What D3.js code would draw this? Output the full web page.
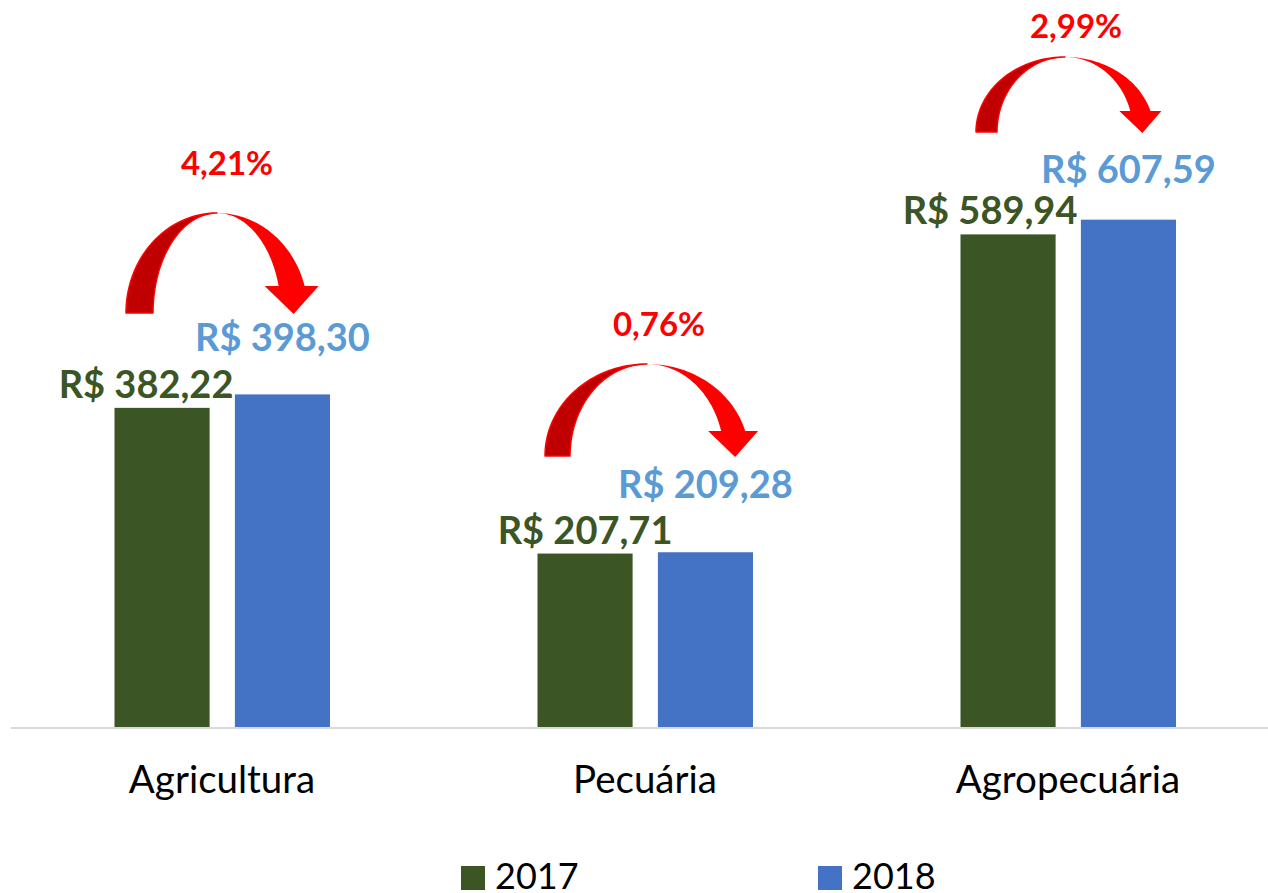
<!DOCTYPE html>
<html>
<head>
<meta charset="utf-8">
<script src="https://cdn.jsdelivr.net/npm/d3@7"></script>
<style>
  html, body { margin: 0; padding: 0; background: #fff; }
  svg { display: block; }
</style>
</head>
<body>
<svg id="chart" width="1268" height="893"></svg>
<script>
// ---- data ----
const categories = ["Agricultura", "Pecuária", "Agropecuária"];
const years = ["2017", "2018"];
const values2017 = [382.22, 207.71, 589.94];
const values2018 = [398.30, 209.28, 607.59];
const changeLabels = ["4,21%", "0,76%", "2,99%"];

// ---- layout for annotations (not data) ----
const label2017Dx = [-16, 0, -18];
const label2018Dy = [-43, -54, -37];
// arrow: peak dx from band centre, outer rx, ry, inner rx, bottom y, pct label baseline
const arrowLayout = [
  { dx: -5, rx: 91, ry: 100, irx: 64, bottom: 313, pctY: 175, pctDx: 10 },
  { dx: 2,  rx: 102, ry: 92, irx: 77, bottom: 456, pctY: 336, pctDx: 12 },
  { dx: -3, rx: 89, ry: 75,  irx: 68, bottom: 132, pctY: 38,  pctDx: 11 }
];

const colors = { "2017": "#3B5524", "2018": "#4472C4" };
const labelColors = { "2017": "#3B5524", "2018": "#5B9BD5" };
const FONT = "Lato, 'Open Sans', sans-serif";

const svg = d3.select("#chart");

const x0 = d3.scaleBand().domain(categories).range([10.5, 1279.5]).padding(0);
const x1 = d3.scaleBand().domain(years).range([104, 319.5]).paddingInner(0.21);
const y = d3.scaleLinear().domain([0, 800]).range([727, 59]);

const rows = categories.map((c, i) => ({
  cat: c, i,
  vals: [{ year: "2017", v: values2017[i] }, { year: "2018", v: values2018[i] }]
}));

// axis line
const xAxis = d3.axisBottom(x0).tickSize(0).tickPadding(0).tickFormat("");
const ax = svg.append("g").attr("transform", `translate(0,${y(0)})`).call(xAxis);
ax.select(".domain").remove();
svg.append("line")
  .attr("x1", 11).attr("x2", 1268)
  .attr("y1", y(0) + 1).attr("y2", y(0) + 1)
  .attr("stroke", "#D9D9D9").attr("stroke-width", 2);

// bars
const groups = svg.selectAll("g.cat").data(rows).join("g")
  .attr("class", "cat")
  .attr("transform", d => `translate(${x0(d.cat)},0)`);

groups.selectAll("rect").data(d => d.vals).join("rect")
  .attr("x", d => x1(d.year))
  .attr("width", x1.bandwidth())
  .attr("y", d => y(d.v))
  .attr("height", d => y(0) - y(d.v))
  .attr("fill", d => colors[d.year]);

// value labels
const fmt = v => "R$ " + d3.format(".2f")(v).replace(".", ",");
groups.each(function (d) {
  const g = d3.select(this);
  d.vals.forEach(o => {
    const cx = x1(o.year) + x1.bandwidth() / 2 + (o.year === "2017" ? label2017Dx[d.i] : 0);
    const yy = y(o.v) + (o.year === "2017" ? -10 : label2018Dy[d.i]);
    g.append("text")
      .attr("x", cx).attr("y", yy)
      .attr("text-anchor", "middle")
      .attr("font-family", FONT).attr("font-weight", 700)
      .attr("font-size", 38)
      .attr("fill", labelColors[o.year])
      .text(fmt(o.v));
  });
});

// category labels
svg.selectAll("text.cat").data(categories).join("text")
  .attr("class", "cat")
  .attr("x", d => x0(d) + x0.bandwidth() / 2)
  .attr("y", 793)
  .attr("text-anchor", "middle")
  .attr("font-family", FONT).attr("font-size", 38.5)
  .attr("fill", "#000")
  .text(d => d);

// arrows
function ellPt(cx, cy, rx, ry, deg) {
  const t = deg * Math.PI / 180;
  return [cx + rx * Math.cos(t), cy - ry * Math.sin(t)];
}
function arcPts(cx, cy, rx, ry, a0, a1, n) {
  const pts = [];
  for (let k = 0; k <= n; k++) pts.push(ellPt(cx, cy, rx, ry, a0 + (a1 - a0) * k / n));
  return pts;
}
const line = d3.line().curve(d3.curveLinear);

rows.forEach(d => {
  const L = arrowLayout[d.i];
  const cx = x0(d.cat) + x0.bandwidth() / 2 + L.dx;
  const cy = L.bottom;
  const th = L.rx - L.irx;
  const baseY = cy - th;
  const aEnd = Math.asin(th / L.ry) * 180 / Math.PI;
  const g = svg.append("g");

  // back (dark) face: left half
  const dark = arcPts(cx, cy, L.rx, L.ry, 180, 90, 40)
    .concat(arcPts(cx, cy, L.irx, L.ry, 90, 180, 40));
  g.append("path").attr("d", line(dark) + "Z")
    .attr("fill", "#C00000").attr("stroke", "#FF0000").attr("stroke-width", 1.5)
    .attr("stroke-linejoin", "round");

  // front (light) face: right half to head base
  const front = arcPts(cx, cy, L.rx, L.ry, 107, aEnd, 60)
    .concat(arcPts(cx, cy, L.irx, L.ry, aEnd, 90, 50));
  g.append("path").attr("d", line(front) + "Z").attr("fill", "#FF0000");

  // arrow head
  const po = ellPt(cx, cy, L.rx, L.ry, aEnd);
  const pi = ellPt(cx, cy, L.irx, L.ry, aEnd);
  const hc = (po[0] + pi[0]) / 2;
  const hw = th * 1.0;
  g.append("path")
    .attr("d", line([[hc - hw, baseY], [hc + hw, baseY], [hc + 2, cy + 1]]) + "Z")
    .attr("fill", "#FF0000");

  // percentage label
  g.append("text")
    .attr("x", cx + L.pctDx).attr("y", L.pctY)
    .attr("text-anchor", "middle")
    .attr("font-family", FONT).attr("font-weight", 700).attr("font-size", 33)
    .attr("fill", "#FF0000")
    .text(changeLabels[d.i]);
});

// legend
const legend = svg.append("g");
const legItems = [{ year: "2017", x: 461 }, { year: "2018", x: 818 }];
legItems.forEach(it => {
  legend.append("rect").attr("x", it.x).attr("y", 866).attr("width", 24).attr("height", 24)
    .attr("fill", colors[it.year]);
  legend.append("text").attr("x", it.x + 34).attr("y", 889)
    .attr("font-family", FONT).attr("font-size", 36).attr("fill", "#000")
    .text(it.year);
});
</script>
</body>
</html>
